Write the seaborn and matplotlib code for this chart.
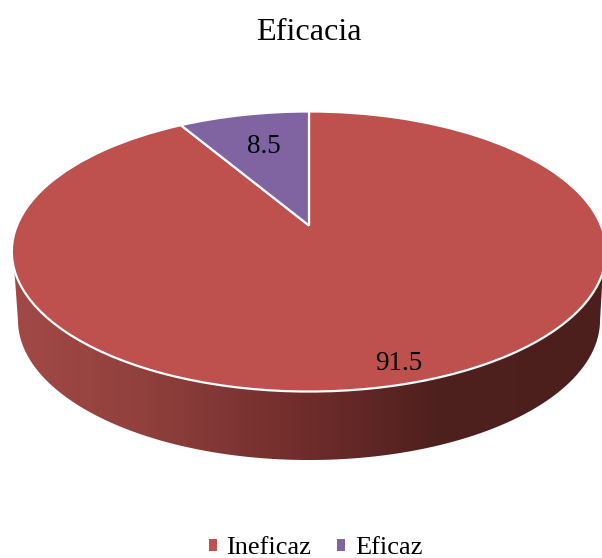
import numpy as np
import seaborn as sns
import matplotlib
matplotlib.use("Agg")
import matplotlib.pyplot as plt
from matplotlib.colors import LinearSegmentedColormap
from matplotlib.path import Path
from matplotlib.patches import PathPatch
from matplotlib.transforms import Transform

categories = ["Ineficaz", "Eficaz"]
values = [91.5, 8.5]
colors = ["#BE504D", "#8064A2"]
title = "Eficacia"

sns.set_theme(style="white")
plt.rcParams["font.family"] = ["Liberation Serif", "DejaVu Serif"]
plt.rcParams["text.color"] = "black"


class TiltedDisc(Transform):
    """Perspective view of the unit pie disc, in pixel-like data coordinates."""
    input_dims = output_dims = 2
    is_separable = False
    has_inverse = False

    def __init__(self, cx, cy, w, h, k):
        super().__init__()
        self.cx, self.cy, self.w, self.h, self.k = cx, cy, w, h, k

    def transform_non_affine(self, xy):
        xy = np.asarray(xy, float)
        d = 1 + self.k * xy[:, 1]
        return np.column_stack([self.cx + self.w * xy[:, 0] / d,
                                self.cy - self.h * xy[:, 1] / d])


fig = plt.figure(figsize=(6.02, 5.58), dpi=100, facecolor="white")
ax = fig.add_axes([0, 0, 1, 1])

wedges, _ = ax.pie(values, colors=colors, startangle=90, counterclock=False,
                   wedgeprops=dict(edgecolor="white", linewidth=1.6, joinstyle="miter"))
top = TiltedDisc(309, 225.5, 292, 135.2, 0.1857)
for w in wedges:
    w.set_transform(top + ax.transData)
    w.set_clip_on(False)
    w.set_zorder(3)

# side wall of the disc, shaded left to right
bottom = TiltedDisc(309, 294, 286, 135.2, 0.1857)
t0 = np.arcsin(0.1857)
theta = np.linspace(np.pi + t0, 2 * np.pi - t0, 200)
arc = bottom.transform_non_affine(np.column_stack([np.cos(theta), np.sin(theta)]))
outline = np.vstack([[14.5, 272], arc, [603, 268], [14.5, 272]])
cmap = LinearSegmentedColormap.from_list(
    "side", [(0, "#A24946"), (0.22, "#90403D"), (0.5, "#6F2C2B"),
             (0.72, "#4E201E"), (1, "#4C1F1D")])
img = ax.imshow(np.linspace(0, 1, 300)[None, :], cmap=cmap, aspect="auto",
                extent=(14, 603, 470, 250), zorder=1, interpolation="bilinear")
clip = PathPatch(Path(outline), transform=ax.transData, facecolor="none", edgecolor="none")
ax.add_patch(clip)
img.set_clip_path(clip)

ax.set_aspect("auto")
ax.set_xlim(0, 602)
ax.set_ylim(558, 0)
ax.axis("off")

ax.text(309, 32.5, title, fontsize=23.2, ha="center", va="center", color="black")
ax.text(399, 363, f"{values[0]}", fontsize=19.5, ha="center", va="center", color="black", zorder=5)
ax.text(264, 146.5, f"{values[1]}", fontsize=19.5, ha="center", va="center", color="black", zorder=5)

leg = ax.legend(wedges, categories, loc="center", bbox_to_anchor=(315.5 / 602, 1 - 548.5 / 558),
                ncol=2, frameon=False, fontsize=19, handlelength=0.31, handleheight=0.31,
                handletextpad=0.36, columnspacing=0.98, borderpad=0, borderaxespad=0,
                labelcolor="black")
for h in leg.legend_handles:
    h.set_edgecolor("none")

fig.savefig("out.png", dpi=100, facecolor="white")
